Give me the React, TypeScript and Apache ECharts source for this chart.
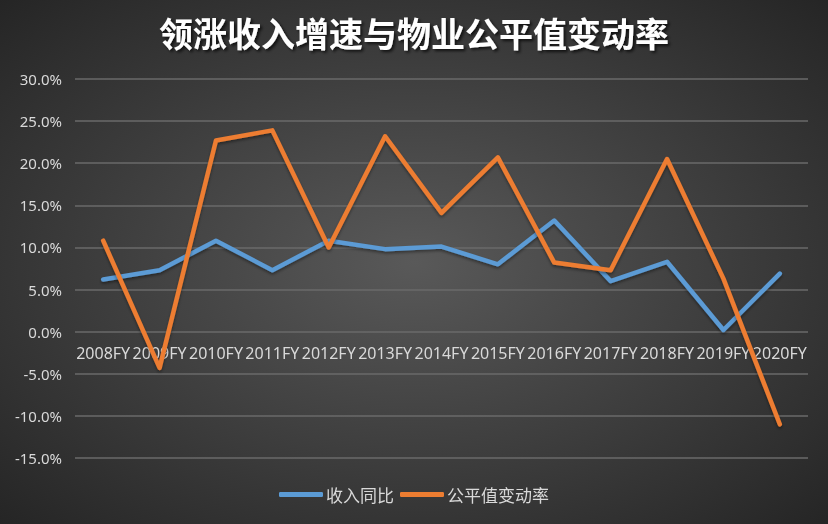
import React, { useEffect, useRef } from "react";
import * as echarts from "echarts";

const categories = ["2008FY", "2009FY", "2010FY", "2011FY", "2012FY", "2013FY", "2014FY", "2015FY", "2016FY", "2017FY", "2018FY", "2019FY", "2020FY"];
const revenueGrowth = [6.2, 7.3, 10.8, 7.3, 10.8, 9.8, 10.1, 8.0, 13.2, 6.0, 8.3, 0.2, 6.9];
const fairValueChange = [10.8, -4.3, 22.7, 23.9, 10.0, 23.2, 14.1, 20.7, 8.2, 7.3, 20.5, 6.3, -11.0];
const seriesNames = ["收入同比", "公平值变动率"];
const titleText = "领涨收入增速与物业公平值变动率";
const yMin = -15;
const yMax = 30;

export default function App() {
  const ref = useRef<HTMLDivElement>(null);
  useEffect(() => {
    if (!ref.current) return;
    const chart = echarts.init(ref.current, undefined, { renderer: "svg" });
    const labelFont = "'Noto Sans', 'DejaVu Sans', sans-serif";
    const gridTop = 79;
    const gridBottom = 66;
    const plotH = 524 - gridTop - gridBottom;
    // move the category axis up to the zero line
    const zeroOffset = -(plotH * (0 - yMin)) / (yMax - yMin);
    chart.setOption({
      animation: false,
      backgroundColor: {
        type: "radial",
        x: 0.5,
        y: 0.5,
        r: 0.75,
        colorStops: [
          { offset: 0, color: "#595959" },
          { offset: 1, color: "#222222" },
        ],
      },
      title: {
        text: titleText,
        left: "center",
        top: 10,
        textStyle: {
          color: "#ffffff",
          fontSize: 34,
          fontWeight: "bold",
          fontFamily: "'Noto Sans CJK SC', sans-serif",
          textShadowColor: "rgba(0,0,0,0.7)",
          textShadowBlur: 3,
          textShadowOffsetX: 2,
          textShadowOffsetY: 2,
        },
      },
      legend: {
        bottom: 16,
        left: "center",
        icon: "roundRect",
        itemWidth: 44,
        itemHeight: 5,
        itemGap: 6,
        data: seriesNames,
        textStyle: {
          color: "#d9d9d9",
          fontSize: 17,
          fontFamily: "'Noto Sans CJK SC', sans-serif",
          padding: [0, 0, 0, -2],
        },
      },
      grid: { left: 75, right: 20, top: gridTop, bottom: gridBottom },
      xAxis: {
        type: "category",
        data: categories,
        boundaryGap: true,
        offset: zeroOffset,
        axisLine: { show: false, onZero: false },
        axisTick: { show: false },
        axisLabel: {
          interval: 0,
          color: "#d9d9d9",
          fontSize: 16,
          margin: 13,
          fontFamily: labelFont,
        },
      },
      yAxis: {
        type: "value",
        min: yMin,
        max: yMax,
        interval: 5,
        axisLine: { show: false },
        axisTick: { show: false },
        axisLabel: {
          color: "#d9d9d9",
          fontSize: 15,
          margin: 13,
          fontFamily: labelFont,
          formatter: (v: number) => v.toFixed(1) + "%",
        },
        splitLine: { lineStyle: { color: "#6a6a6a", width: 1.5 } },
      },
      series: [
        {
          name: seriesNames[0],
          type: "line",
          data: revenueGrowth,
          showSymbol: false,
          symbol: "none",
          color: "#5B9BD5",
          lineStyle: {
            width: 4.5,
            color: "#5B9BD5",
            cap: "round",
            join: "round",
            shadowColor: "rgba(0,0,0,0.4)",
            shadowBlur: 3,
            shadowOffsetY: 2,
          },
        },
        {
          name: seriesNames[1],
          type: "line",
          data: fairValueChange,
          showSymbol: false,
          symbol: "none",
          color: "#ED7D31",
          lineStyle: {
            width: 4.5,
            color: "#ED7D31",
            cap: "round",
            join: "round",
            shadowColor: "rgba(0,0,0,0.4)",
            shadowBlur: 3,
            shadowOffsetY: 2,
          },
        },
      ],
    });
    return () => chart.dispose();
  }, []);
  return (
    <div
      ref={ref}
      style={{ position: "fixed", left: 0, top: 0, width: 828, height: 524 }}
    />
  );
}
